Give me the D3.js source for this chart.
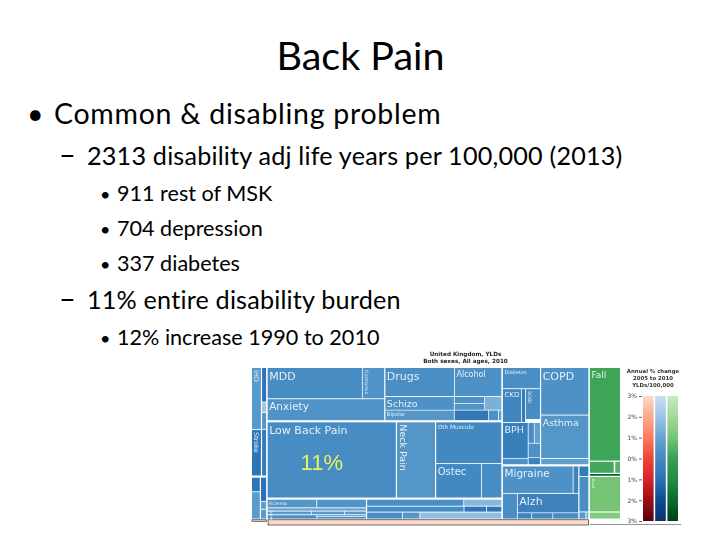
<!DOCTYPE html>
<html><head><meta charset="utf-8">
<script src="https://cdn.jsdelivr.net/npm/d3@7/dist/d3.min.js"></script>
<style>html,body{margin:0;padding:0;background:#fff}svg{display:block}text{font-variant-ligatures:none}</style>
</head><body><svg id="c" width="720" height="540"></svg>
<script>
// ---- slide text
const slideTitle = "Back Pain";
const bulletLines = [
  {level:1, text:"Common & disabling problem"},
  {level:2, text:"2313 disability adj life years per 100,000 (2013)"},
  {level:3, text:"911 rest of MSK"},
  {level:3, text:"704 depression"},
  {level:3, text:"337 diabetes"},
  {level:2, text:"11% entire disability burden"},
  {level:3, text:"12% increase 1990 to 2010"}
];
const insetTitle = ["United Kingdom, YLDs","Both sexes, All ages, 2010"];
const legendTitle = ["Annual % change","2005 to 2010","YLDs/100,000"];
const legendTicks = [3,2,1,0,-1,-2,-3];
const shareLabel = "11%";

// ---- treemap data: leaf(name, YLDs per 100,000, annual % change)
const b=(n,v,c)=>({name:n,value:v,change:c,family:"blue"});
const g=(n,v,c)=>({name:n,value:v,change:c,family:"green"});
const r=(n,v,c)=>({name:n,value:v,change:c,family:"red"});
const blank=(v)=>({name:"",value:v,change:0,family:"none"});
const G=(...children)=>({children});

const cardioCauses = G(
  G( G(b("IHD",150,0.6), b("Stroke",112,-0.9)),
     G(b("",43,-0.9), b("",13,2), b("",21,0.5), b("",58,-0.6)) ),
  G( G(b("",32,-0.8), b("",60,0.7)),
     G(b("",37,-1), b("",12,0.8), b("",15,0.7)) )
);
const mentalCauses = G(
  G( G( G(b("MDD",705,0.1), b("Dysthymia",165,0.4)), b("Anxiety",609,0.4) ),
     G( G(b("Drugs",480,0.2), b("Alcohol",325,0.3)),
        G( G(b("Schizo",224,0.3), b("Bipolar",172,0.5)),
           G( G( G(b("",49,0.3), b("",49,0.4)), b("",55,1.4) ),
              G(b("",85,-0.7), b("",25,0.3), b("",8,0.9)) ) ) ) ),
  G( b("Low Back Pain",2313,0.1), b("Neck Pain",700,0.5),
     G( b("Oth Musculo",650,0), G(b("Ostec",371,0), b("",165,0.1)) ) ),
  G( G( G(b("Eczema",105,0.5), b("",105,0.4)), b("Acne",80,1),
        G(b("",40,0.6), b("",30,0.6), b("",20,0.7)),
        G(b("",52,0.2), G(b("",20,0.3), b("",32,0.2))) ),
     G( G(b("",166,0.2), b("",65,1.6)),
        G(b("",142,0.1), b("",33,-0.8), b("",22,-0.8)),
        G(b("",61,0.2), b("",30,0.5), b("",140,1.8)) ) )
);
const otherCauses = G(
  G( G( b("Diabetes",190,0.2),
        G(b("CKD",152,-0.1), b("",32,-0.6), G(b("SCKD",109,0.1), blank(11))),
        G( G(b("BPH",219,-0.4), b("",38,0.3)),
           G( G(b("",30,0.2), b("",30,0.9)), b("",42,0.3), b("",20,-0.3) ) ) ),
     G( b("COPD",540,0.3), b("Asthma",494,0.5), b("",70,0.9) ) ),
  G( G( G(b("Migraine",462,0.3), b("",36,-0.2)),
        G( b("",91,0.2), G(b("Alzh",285,-0.3), G(b("",21,-0.2), b("",31,0), b("",38,0.1))) ) ),
     G( b("",25,-0.6), b("",85,0.2), G(b("",12,0.6), b("",5,1.4)) ) )
);
const injuryStrip = G( G(r("",12,3), r("",5,1.2), r("",7,3)), r("",481,3) );
const fallsAndSkin = G(
  g("Fall",690,0.1),
  G(g("",72,0.2), g("",18,0.5)),
  g("",22,-2),
  g("Road",262,1),
  g("",52,1.3),
  blank(40),
  g("",8,-1)
);
const treeData = G( G( G(cardioCauses, mentalCauses, otherCauses), injuryStrip ), fallsAndSkin );

// ---- colour ramps share one domain with the legend axis
const pctDomain = [-3,-2,-1,0,1,2,3];
const ramps = {
  red:  d3.scaleLinear(pctDomain,["#5a0010","#9a0d16","#d8232a","#ee4436","#fb7a5d","#fca98e","#fdd8ca"]),
  blue: d3.scaleLinear(pctDomain,["#08306b","#0b4a92","#2a72b5","#4389c1","#64a3d1","#9cc5e4","#c9ddf0"]),
  green:d3.scaleLinear(pctDomain,["#00401a","#0a6a30","#238b45","#37a055","#74c476","#a1d99b","#c9e9c2"])
};
const fill = d=> d.data.family==="none" ? "#fff" : ramps[d.data.family](d.data.change);

const labelSize = {"Low Back Pain":11,"Neck Pain":9.5,"MDD":11,"Drugs":11,"Anxiety":10.5,"Schizo":9.5,"COPD":11,
  "Asthma":9.5,"Migraine":10.5,"Alzh":11,"Ostec":10,"BPH":9.5,"Fall":9,"CKD":7,"Alcohol":8,"IHD":6.5,"Stroke":6.5,
  "Oth Musculo":5.8,"Bipolar":5.2,"Diabetes":5,"Dysthymia":4.5,"Eczema":4.5,"Acne":4,"SCKD":4.5,"Road":3.5};
const rotated = new Set(["IHD","Stroke","Neck Pain","Dysthymia","Acne","SCKD","Road"]);

const svg = d3.select("#c");

// ---- slide text
const slideFont = "Lato, sans-serif";
svg.append("text").attr("x",360.5).attr("y",70).attr("text-anchor","middle")
  .attr("font-family",slideFont).attr("font-size",39.5).attr("fill","#000").text(slideTitle);

const style = {
  1:{bx:27,tx:54,size:28.5,spacing:0.72,mark:"•",markSize:28.5},
  2:{bx:59,tx:87,size:25.2,spacing:0.19,mark:"–",markSize:29},
  3:{bx:100,tx:117,size:21.6,spacing:0,mark:"•",markSize:18}
};
const baselines = [124,165,201,236,271,309,345];
bulletLines.forEach((l,i)=>{
  const s=style[l.level];
  svg.append("text").attr("x",s.bx).attr("y",baselines[i]).attr("font-family",slideFont)
    .attr("font-size",s.markSize).attr("fill","#000").text(s.mark);
  svg.append("text").attr("x",s.tx).attr("y",baselines[i]).attr("font-family",slideFont)
    .attr("font-size",s.size).attr("letter-spacing",s.spacing).attr("fill","#000").text(l.text);
});

// ---- inset
const defs = svg.append("defs");
defs.append("filter").attr("id","soft").attr("x","-2%").attr("y","-2%").attr("width","104%").attr("height","104%")
  .append("feGaussianBlur").attr("stdDeviation",0.5);
const inset = svg.append("g").attr("filter","url(#soft)");

inset.append("g").selectAll("text").data(insetTitle).join("text")
  .attr("x",465.5).attr("y",(d,i)=>355.5+i*7.2).attr("text-anchor","middle")
  .attr("font-family","DejaVu Sans").attr("font-weight","bold").attr("font-size",5.7).attr("fill","#222").text(d=>d);

const root = d3.hierarchy(treeData).sum(d=>d.value||0);
const gapByDepth = [1.6,1.2,1.6,2.2,1.2,0.9,0.8,0.7,0.7];
d3.treemap().size([368,157]).tile(d3.treemapSliceDice)
  .paddingInner(d=>gapByDepth[d.depth]||0.7)(root);

const map = inset.append("g").attr("transform","translate(252,368)");
const leaves = root.leaves();
map.selectAll("rect").data(leaves).join("rect")
  .attr("x",d=>d.x0).attr("y",d=>d.y0)
  .attr("width",d=>Math.max(0,d.x1-d.x0)).attr("height",d=>Math.max(0,d.y1-d.y0))
  .attr("fill",fill)
  .attr("stroke",d=>d.data.family==="red"?"#333":"none").attr("stroke-width",0.7);

map.selectAll("text").data(leaves.filter(d=>d.data.name)).join("text")
  .attr("font-family","DejaVu Sans").attr("fill","#f2f7fb").attr("fill-opacity",0.92)
  .attr("font-size",d=>labelSize[d.data.name]||5)
  .attr("transform",d=>{
    const fs=labelSize[d.data.name]||5;
    return rotated.has(d.data.name)
      ? `translate(${d.x0+1.5},${d.y0+2}) rotate(90)`
      : `translate(${d.x0+1.5},${d.y0+fs+0.5})`;
  })
  .attr("dy",d=>rotated.has(d.data.name)?"-0.15em":null)
  .text(d=>d.data.name);

const lbp = leaves.find(d=>d.data.name==="Low Back Pain");
map.append("text").attr("x",(lbp.x0+lbp.x1)/2-10).attr("y",lbp.y0+48).attr("text-anchor","middle")
  .attr("font-family","Liberation Sans").attr("font-size",22).attr("fill","#eaf25a").text(shareLabel);

// ---- legend
const ly = d3.scaleLinear().domain([3,-3]).range([396,521]);
inset.append("g").selectAll("text").data(legendTitle).join("text")
  .attr("x",653).attr("y",(d,i)=>373+i*7).attr("text-anchor","middle")
  .attr("font-family","DejaVu Sans").attr("font-weight","bold").attr("font-size",5.4).attr("fill","#333").text(d=>d);

const legendAxis = inset.append("g").attr("transform","translate(642,0)")
  .call(d3.axisLeft(ly).tickValues(legendTicks).tickFormat(d=>Math.abs(d)+"%").tickSize(3).tickPadding(2));
legendAxis.select(".domain").remove();
legendAxis.selectAll("line").attr("stroke","#666");
legendAxis.selectAll("text").attr("font-family","DejaVu Sans").attr("font-size",6).attr("fill","#444");

const rampX = d3.scaleBand().domain(["red","blue","green"]).range([643,678]).paddingInner(0.13);
["red","blue","green"].forEach(k=>{
  const grad=defs.append("linearGradient").attr("id","ramp-"+k).attr("x1",0).attr("x2",0).attr("y1",0).attr("y2",1);
  legendTicks.forEach((t,i)=>grad.append("stop").attr("offset",i/(legendTicks.length-1)).attr("stop-color",ramps[k](t)));
  inset.append("rect").attr("x",rampX(k)).attr("width",rampX.bandwidth())
    .attr("y",ly(3)).attr("height",ly(-3)-ly(3)).attr("fill",`url(#ramp-${k})`);
});
inset.append("line").attr("x1",590).attr("x2",681).attr("y1",524.5).attr("y2",524.5).attr("stroke","#777").attr("stroke-width",0.8);
</script></body></html>
